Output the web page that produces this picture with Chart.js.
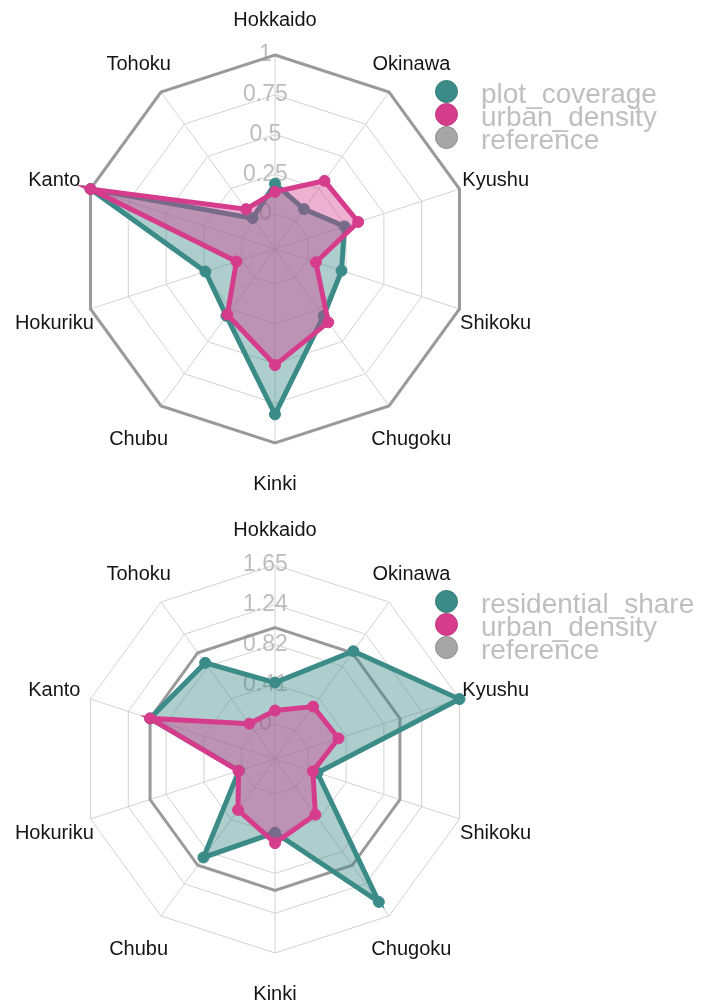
<!DOCTYPE html>
<html>
<head>
<meta charset="utf-8">
<script src="https://cdn.jsdelivr.net/npm/chart.js@4.4.1/dist/chart.umd.min.js"></script>
<style>
  body { margin: 0; background: #fff; width: 701px; height: 1006px; overflow: hidden; position: relative;
         font-family: "Liberation Sans", Arial, Helvetica, sans-serif; }
  .panel { position: absolute; left: 0; width: 701px; height: 510px; }
  .dot { position: absolute; width: 21px; height: 21px; border-radius: 50%; }
  .txt { position: absolute; font-size: 28px; line-height: 23px; color: #bfbfbf; white-space: nowrap; }
</style>
</head>
<body>
<div class="panel" id="p1" style="top:0"><canvas id="chart1" width="701" height="510"></canvas></div>
<div class="panel" id="p2" style="top:510px"><canvas id="chart2" width="701" height="510"></canvas></div>
<script>
// regions, clockwise from the top
const regions = ['Hokkaido', 'Okinawa', 'Kyushu', 'Shikoku', 'Chugoku', 'Kinki', 'Chubu', 'Hokuriku', 'Kanto', 'Tohoku'];

const plotCoverage     = [0.19, 0.09, 0.24, 0.22, 0.30, 0.82, 0.30, 0.24, 1.00, 0.02];
const urbanDensity     = [0.14, 0.31, 0.33, 0.05, 0.35, 0.51, 0.29, 0.035, 1.00, 0.09];
const residentialShare = [0.43, 1.02, 1.65, 0.10, 1.47, 0.40, 0.90, 0.03, 1.00, 0.87];
const reference        = [1, 1, 1, 1, 1, 1, 1, 1, 1, 1];

const ticks1 = [0, 0.25, 0.5, 0.75, 1];
const tickLabels1 = ['0', '0.25', '0.5', '0.75', '1'];
const ticks2 = [0, 0.4125, 0.825, 1.2375, 1.65];
const tickLabels2 = ['0', '0.41', '0.82', '1.24', '1.65'];

const FONT = '"Liberation Sans", Arial, Helvetica, sans-serif';
const teal = '#3b8b88', tealFill = 'rgba(59,139,136,0.42)';
const pink = '#d53d8c', pinkFill = 'rgba(213,61,140,0.4)';
const grey = '#9a9a9a';

// region names around the web, centred on a ring outside the plot
const regionLabels = {
  id: 'regionLabels',
  afterDraw(chart) {
    const scale = chart.scales.r;
    const ctx = chart.ctx;
    ctx.save();
    ctx.font = '20px ' + FONT;
    ctx.fillStyle = '#151515';
    ctx.textAlign = 'center';
    ctx.textBaseline = 'middle';
    chart.data.labels.forEach((name, i) => {
      const p = scale.getPointPosition(i, scale.drawingArea + 38);
      ctx.fillText(name, p.x, p.y + 3);
    });
    ctx.restore();
  }
};

function makeRadar(id, firstName, firstData, max, tickVals, tickLbls) {
  return new Chart(document.getElementById(id), {
    type: 'radar',
    data: {
      labels: regions,
      datasets: [
        { label: firstName, data: firstData, borderColor: teal, backgroundColor: tealFill,
          borderWidth: 5, pointRadius: 5.5, pointBackgroundColor: teal, pointBorderColor: teal,
          pointBorderWidth: 1, fill: 'start', order: 1 },
        { label: 'urban_density', data: urbanDensity, borderColor: pink, backgroundColor: pinkFill,
          borderWidth: 5, pointRadius: 5.5, pointBackgroundColor: pink, pointBorderColor: pink,
          pointBorderWidth: 1, fill: 'start', order: 0 },
        { label: 'reference', data: reference, borderColor: grey, borderWidth: 3,
          pointRadius: 0, fill: false, order: 2 }
      ]
    },
    options: {
      responsive: false,
      animation: false,
      layout: { padding: { left: 0, right: 150, top: 42, bottom: 53 } },
      elements: { line: { tension: 0 } },
      plugins: { legend: { display: false }, tooltip: { enabled: false } },
      scales: {
        r: {
          min: -0.22 * max,
          max: max,
          grid: { color: '#d2d2d2', lineWidth: 1 },
          angleLines: { color: '#d2d2d2', lineWidth: 1 },
          pointLabels: { display: false },
          ticks: {
            color: '#bdbdbd',
            font: { size: 23, family: FONT },
            showLabelBackdrop: false,
            callback: (v, i) => tickLbls[i] + '\u00a0\u00a0\u00a0'
          },
          afterBuildTicks: (s) => { s.ticks = tickVals.map(v => ({ value: v })); }
        }
      }
    },
    plugins: [regionLabels]
  });
}

function addLegend(panelId, names) {
  const panel = document.getElementById(panelId);
  const colors = [[teal, '#347c79'], [pink, '#c0377e'], ['#a6a6a6', '#8c8c8c']];
  names.forEach((name, i) => {
    const cy = 91 + 23 * i;
    const dot = document.createElement('div');
    dot.className = 'dot';
    dot.style.left = '435px';
    dot.style.top = (cy - 11.5) + 'px';
    dot.style.background = colors[i][0];
    dot.style.border = '1px solid ' + colors[i][1];
    panel.appendChild(dot);
    const t = document.createElement('div');
    t.className = 'txt';
    t.style.left = '481px';
    t.style.top = (cy - 8.6) + 'px';
    t.textContent = name;
    panel.appendChild(t);
  });
}

makeRadar('chart1', 'plot_coverage', plotCoverage, 1, ticks1, tickLabels1);
makeRadar('chart2', 'residential_share', residentialShare, 1.65, ticks2, tickLabels2);
addLegend('p1', ['plot_coverage', 'urban_density', 'reference']);
addLegend('p2', ['residential_share', 'urban_density', 'reference']);
</script>
</body>
</html>
